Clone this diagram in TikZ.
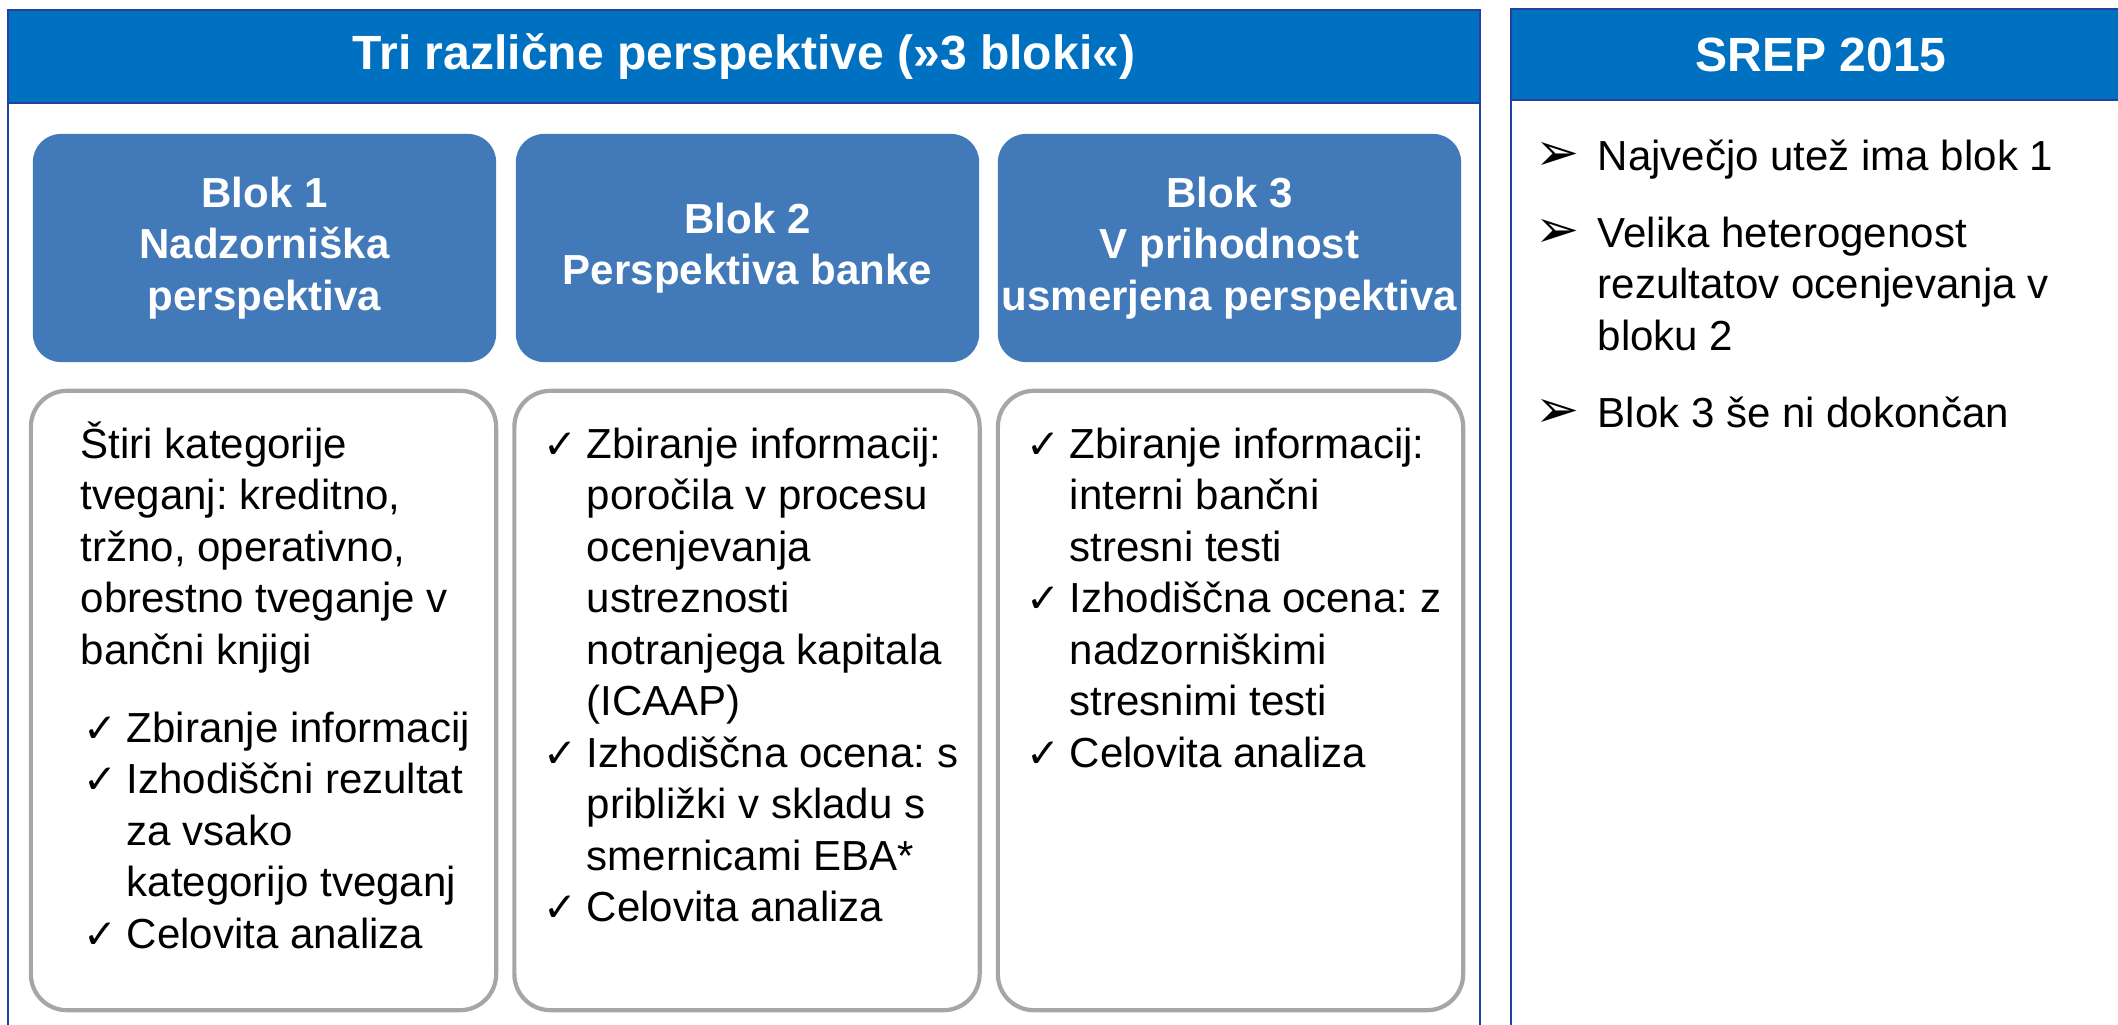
\documentclass[tikz,border=0pt]{standalone}
\usepackage{fontspec}
\setmainfont{Liberation Sans}
\newfontfamily\symfont{DejaVu Sans}

\definecolor{bandblue}{RGB}{0,112,192}
\definecolor{blokblue}{RGB}{66,121,185}
\definecolor{frameblue}{RGB}{36,64,160}
\definecolor{boxgray}{RGB}{166,166,166}

\newcommand{\besedilo}{\fontsize{11.95}{14.6}\selectfont}
\newcommand{\naslovfont}{\fontsize{13.66}{16}\selectfont\bfseries}

\begin{document}
\frenchspacing
\begin{tikzpicture}[x=0.01cm, y=-0.01cm,
		band/.style={draw=frameblue, line width=0.6pt, fill=bandblue},
		panel/.style={draw=frameblue, line width=0.6pt},
		blok/.style={rounded corners=0.28cm, fill=blokblue, text=white, font=\besedilo\bfseries,
			align=center, minimum width=4.63cm, minimum height=2.28cm, inner sep=0pt},
		okvir/.style={draw=boxgray, line width=1.2pt, rounded corners=0.36cm,
			minimum width=4.65cm, minimum height=6.19cm, inner sep=0pt},
		vrstica/.style={anchor=base west, inner sep=0pt, font=\besedilo},
		kljukica/.style={anchor=base west, inner sep=0pt, font=\symfont\fontsize{11.5}{13}\selectfont},
		puscica/.style={anchor=base west, inner sep=0pt, font=\symfont\fontsize{15}{16}\selectfont}]
		\clip (0,0) rectangle (2118,1024);
%		\draw[help lines, step=100] (0,0) grid (2118,1024);

		% levi panel: tri perspektive
		\draw[panel] (8,10) rectangle (1480,1060);
		\draw[band] (8,10) rectangle (1480,103);
		\node[font=\naslovfont, text=white] (naslov) at (744,57) {Tri različne perspektive (»3 bloki«)};

		% desni panel: SREP 2015
		\draw[panel] (1511,9) rectangle (2140,1060);
		\draw[band] (1511,9) rectangle (2140,100);
		\node[font=\naslovfont, text=white] (srep) at (1821,55) {SREP 2015};

		% glave blokov
		\node[blok] (blok1) at (264.5,248) {Blok 1\\Nadzorniška\\perspektiva};
		\node[blok] (blok2) at (747.5,248) {Blok 2\\Perspektiva banke};
		\node[blok] (blok3) at (1229.5,248) {Blok 3\\V prihodnost\\usmerjena perspektiva};

		% sivi okvirji
		\node[okvir] (okvir1) at (263.5,700.5) {};
		\node[okvir] (okvir2) at (747,700.5) {};
		\node[okvir] (okvir3) at (1230.5,700.5) {};

		% blok 1
		\foreach \vr [count=\i from 0] in {Štiri kategorije, {tveganj: kreditno,}, {tržno, operativno,},
				obrestno tveganje v, bančni knjigi}
			\node[vrstica] (b1o-\i) at (80,{458+51.5*\i}) {\vr};
		\foreach \vr [count=\i from 0] in {Zbiranje informacij, Izhodiščni rezultat, za vsako,
				kategorijo tveganj, Celovita analiza}
			\node[vrstica] (b1s-\i) at (126,{742+51.5*\i}) {\vr};
		\foreach \k in {0,1,4}
			\node[kljukica] (b1k-\k) at (83,{742+51.5*\k}) {✓};

		% blok 2
		\foreach \vr [count=\i from 0] in {Zbiranje informacij:, poročila v procesu, ocenjevanja,
				ustreznosti, notranjega kapitala, (ICAAP), Izhodiščna ocena: s, približki v skladu s,
				smernicami EBA*, Celovita analiza}
			\node[vrstica] (b2s-\i) at (586,{458+51.5*\i}) {\vr};
		\foreach \k in {0,6,9}
			\node[kljukica] (b2k-\k) at (543,{458+51.5*\k}) {✓};

		% blok 3
		\foreach \vr [count=\i from 0] in {Zbiranje informacij:, interni bančni, stresni testi,
				Izhodiščna ocena: z, nadzorniškimi, stresnimi testi, Celovita analiza}
			\node[vrstica] (b3s-\i) at (1069,{458+51.5*\i}) {\vr};
		\foreach \k in {0,3,6}
			\node[kljukica] (b3k-\k) at (1026,{458+51.5*\k}) {✓};

		% SREP 2015
		\node[puscica] (p1) at (1535,170) {➢};
		\node[vrstica] (srep1) at (1597,170) {Največjo utež ima blok 1};
		\node[puscica] (p2) at (1535,247) {➢};
		\node[vrstica] (srep2) at (1597,247) {Velika heterogenost};
		\node[vrstica] (srep3) at (1597,298.5) {rezultatov ocenjevanja v};
		\node[vrstica] (srep4) at (1597,350) {bloku 2};
		\node[puscica] (p3) at (1535,427) {➢};
		\node[vrstica] (srep5) at (1597,427) {Blok 3 še ni dokončan};
	\end{tikzpicture}
\end{document}
